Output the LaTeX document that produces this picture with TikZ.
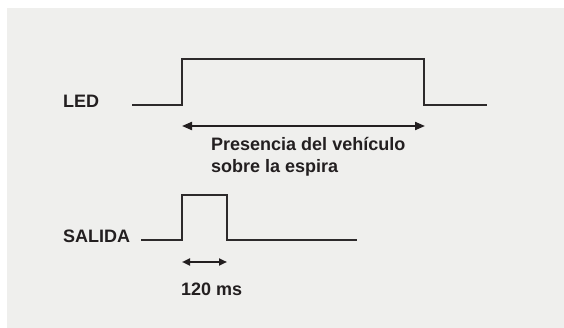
\documentclass[tikz,border=0pt]{standalone}
\usepackage{fontspec}
\setmainfont{Liberation Sans}
\usetikzlibrary{arrows.meta}
\definecolor{bg}{RGB}{239,239,237}
\definecolor{ink}{RGB}{35,31,32}
\definecolor{wave}{RGB}{45,42,43}
\tikzset{
  lbl/.style={font=\fontsize{18}{22}\selectfont\bfseries, text=ink, inner sep=0pt},
  signal/.style={draw=wave, line width=1.4pt, line join=miter},
  span/.style={draw=ink, line width=2pt, {Triangle[length=10pt,width=8pt]}-{Triangle[length=10pt,width=8pt]}},
  spansmall/.style={draw=ink, line width=2pt, {Triangle[length=8pt,width=7pt]}-{Triangle[length=8pt,width=7pt]}}
}
\begin{document}
\begin{tikzpicture}[x=1pt,y=-1pt]
\useasboundingbox (0,0) rectangle (564,328);
\fill[bg] (7,8) rectangle (564,328);
% LED
\node[lbl, anchor=base west] (led) at (63,108) {LED};
\draw[signal] (132,105) -- (182,105) -- (182,59) -- (424,59) -- (424,105) -- (487,105);
\coordinate (a1) at (182,126);
\coordinate (a2) at (425,126);
\draw[span] (a1) -- (a2);
\node[lbl, anchor=base west] (pres1) at (211,151) {Presencia del vehículo};
\node[lbl, anchor=base west] (pres2) at (211,173) {sobre la espira};
% SALIDA
\node[lbl, anchor=base west] (sal) at (63,243) {SALIDA};
\draw[signal] (141,240) -- (182,240) -- (182,195) -- (227,195) -- (227,240) -- (357,240);
\coordinate (b1) at (182,262);
\coordinate (b2) at (227,262);
\draw[spansmall] (b1) -- (b2);
\node[lbl, anchor=base west] (ms) at (181,295) {120 ms};
\end{tikzpicture}
\end{document}
